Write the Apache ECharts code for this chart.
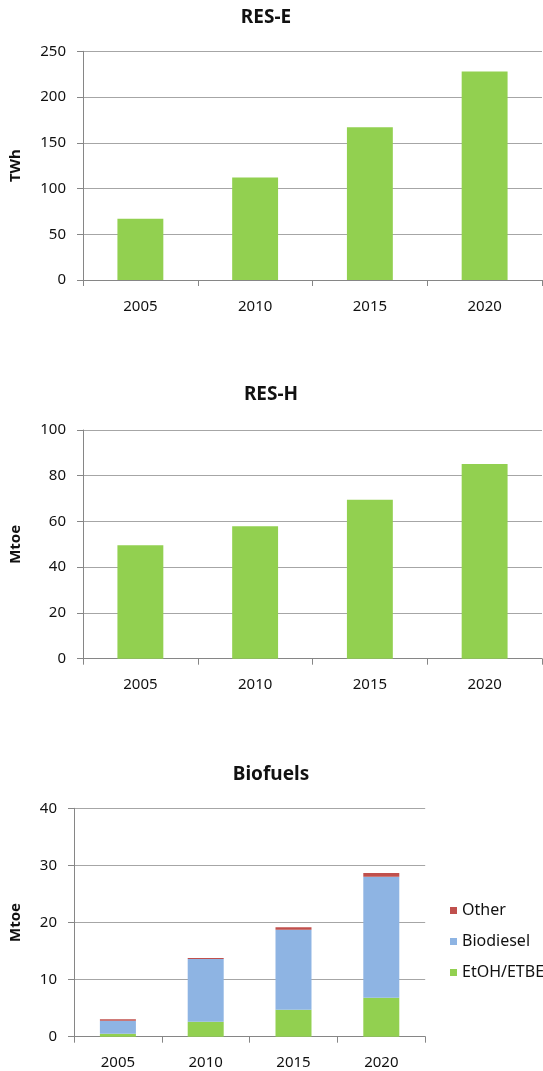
<!DOCTYPE html>
<html>
<head>
<meta charset="utf-8">
<script src="https://cdn.jsdelivr.net/npm/echarts@6/dist/echarts.min.js"></script>
<style>
html,body{margin:0;padding:0;background:#fff;}
#c{width:543px;height:1071px;}
</style>
</head>
<body>
<div id="c"></div>
<script>
// ---- data ----
const years = ['2005', '2010', '2015', '2020'];
const resE = [67, 112, 167, 228];
const resH = [49.6, 57.9, 69.5, 85.1];
const etoh = [0.5, 2.6, 4.7, 6.8];
const biodiesel = [2.3, 11.0, 14.05, 21.2];
const other = [0.25, 0.2, 0.4, 0.65];
const titles = ['RES-E', 'RES-H', 'Biofuels'];
const units = ['TWh', 'Mtoe', 'Mtoe'];

const FONT = 'Noto Sans';
const TXT = '#111';
const GREEN = '#92D050', BLUE = '#8EB4E3', RED = '#C0504D';

function xAx(grid) {
  return {
    type: 'category', gridIndex: grid, data: years,
    axisLine: { show: true, lineStyle: { color: '#868686', width: 1 } },
    axisTick: { show: true, length: 6, lineStyle: { color: '#868686' } },
    axisLabel: { color: TXT, fontFamily: FONT, fontSize: 15, margin: 19 }
  };
}
function yAx(grid, max, interval, name, gap) {
  return {
    type: 'value', gridIndex: grid, min: 0, max: max, interval: interval,
    name: name, nameLocation: 'middle', nameRotate: 90, nameGap: gap,
    nameTextStyle: { color: TXT, fontFamily: FONT, fontSize: 15, fontWeight: 'bold' },
    axisLine: { show: true, lineStyle: { color: '#868686', width: 1 } },
    axisTick: { show: true, length: 6, lineStyle: { color: '#868686' } },
    splitLine: { show: true, lineStyle: { color: '#a6a6a6', width: 1 } },
    axisLabel: { color: TXT, fontFamily: FONT, fontSize: 15, margin: 17 }
  };
}
const titleStyle = { color: '#111', fontFamily: FONT, fontSize: 19, fontWeight: 'bold' };

const chart = echarts.init(document.getElementById('c'), null, { renderer: 'canvas' });
chart.setOption({
  animation: false,
  backgroundColor: '#fff',
  title: [
    { text: titles[0], left: 266, top: 18, textAlign: 'center', textVerticalAlign: 'middle', textStyle: titleStyle, padding: 0 },
    { text: titles[1], left: 271, top: 395, textAlign: 'center', textVerticalAlign: 'middle', textStyle: titleStyle, padding: 0 },
    { text: titles[2], left: 271, top: 775, textAlign: 'center', textVerticalAlign: 'middle', textStyle: titleStyle, padding: 0 }
  ],
  grid: [
    { left: 82, width: 460, top: 51.3, height: 228.7 },
    { left: 82, width: 460, top: 430, height: 228.7 },
    { left: 72.7, width: 352.5, top: 808.3, height: 228.4 }
  ],
  legend: {
    orient: 'vertical', left: 450, top: 902.5,
    data: ['Other', 'Biodiesel', 'EtOH/ETBE'],
    icon: 'rect', itemWidth: 7, itemHeight: 7, itemGap: 15,
    textStyle: { color: TXT, fontFamily: FONT, fontSize: 16, lineHeight: 16 },
    padding: 0
  },
  xAxis: [xAx(0), xAx(1), xAx(2)],
  yAxis: [
    yAx(0, 250, 50, units[0], 60),
    yAx(1, 100, 20, units[1], 60),
    yAx(2, 40, 10, units[2], 51)
  ],
  series: [
    { type: 'bar', name: 'RES-E', xAxisIndex: 0, yAxisIndex: 0, data: resE, barWidth: '40%', itemStyle: { color: GREEN } },
    { type: 'bar', name: 'RES-H', xAxisIndex: 1, yAxisIndex: 1, data: resH, barWidth: '40%', itemStyle: { color: GREEN } },
    { type: 'bar', name: 'EtOH/ETBE', xAxisIndex: 2, yAxisIndex: 2, stack: 'bf', data: etoh, barWidth: '41%', itemStyle: { color: GREEN } },
    { type: 'bar', name: 'Biodiesel', xAxisIndex: 2, yAxisIndex: 2, stack: 'bf', data: biodiesel, barWidth: '41%', itemStyle: { color: BLUE } },
    { type: 'bar', name: 'Other', xAxisIndex: 2, yAxisIndex: 2, stack: 'bf', data: other, barWidth: '41%', itemStyle: { color: RED } }
  ]
});
</script>
</body>
</html>
